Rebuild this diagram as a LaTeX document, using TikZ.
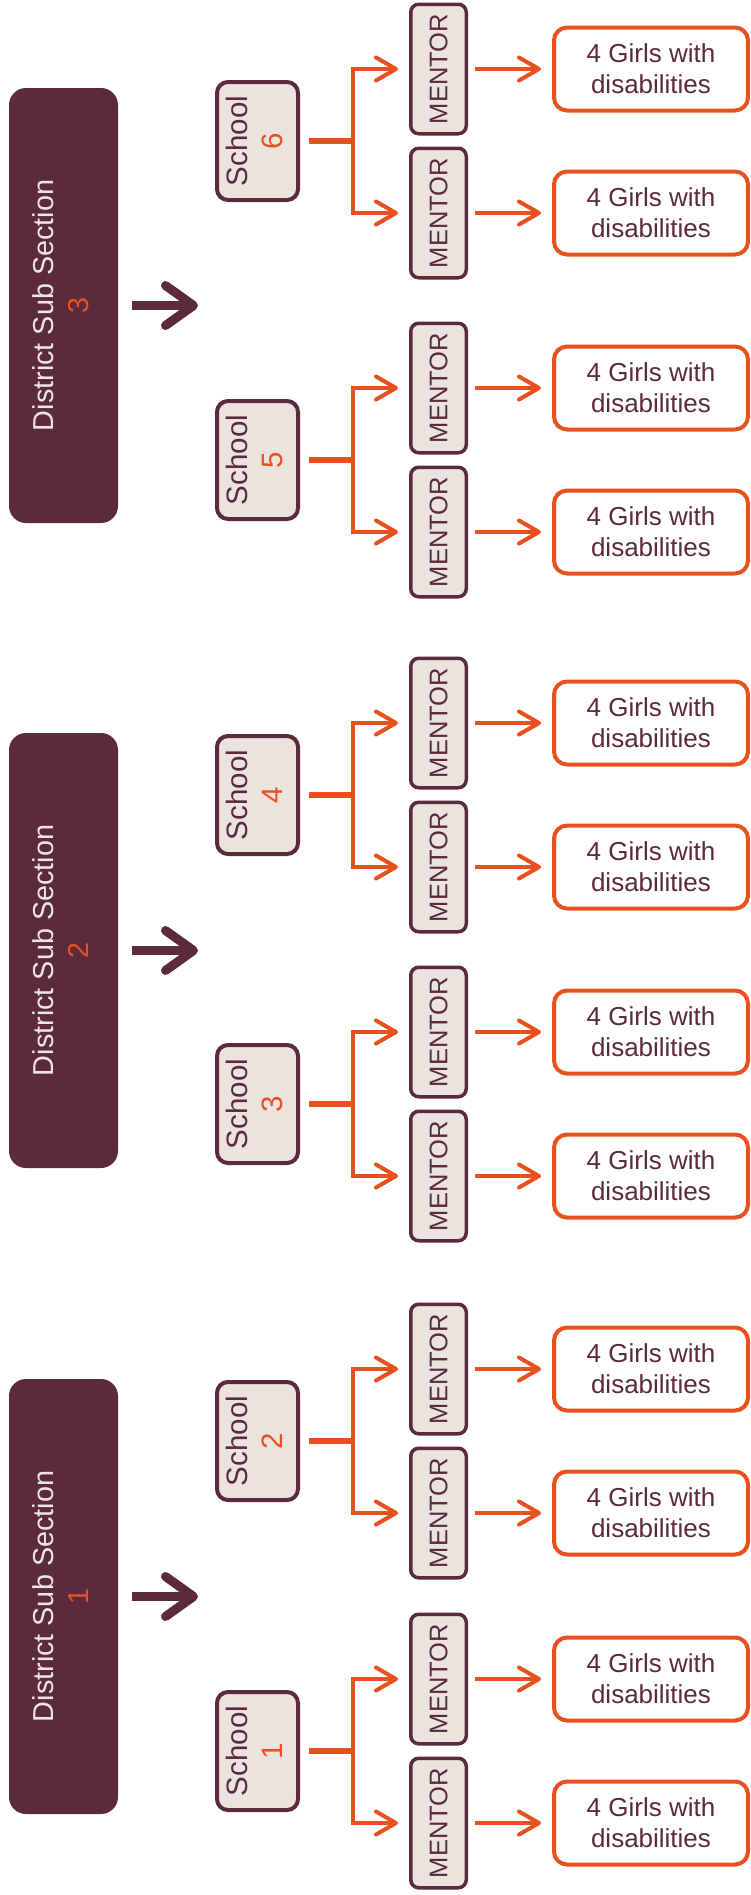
\documentclass[tikz,border=0pt]{standalone}
\usepackage{fontspec}
\setmainfont{Liberation Sans}
\usepackage{graphicx}
\usetikzlibrary{arrows.meta,calc}
\definecolor{brandmaroon}{HTML}{5B2B3D}
\definecolor{brandorange}{HTML}{E8501E}
\definecolor{lightfill}{HTML}{EAE3DE}
\definecolor{disttextcol}{HTML}{EDE5E0}
\begin{document}
\begin{tikzpicture}[x=1pt,y=-1pt,
  distbox/.style={fill=brandmaroon, rounded corners=17pt, minimum width=109pt, minimum height=435pt, inner sep=0pt, text=disttextcol, font=\fontsize{28.8}{35}\selectfont},
  schoolbox/.style={draw=brandmaroon, line width=4pt, fill=lightfill, rounded corners=11pt, minimum width=81pt, minimum height=118pt, inner sep=0pt, text=brandmaroon, font=\fontsize{29.5}{35}\selectfont},
  mentorbox/.style={draw=brandmaroon, line width=3.5pt, fill=lightfill, rounded corners=8pt, minimum width=55.5pt, minimum height=129.5pt, inner sep=0pt, text=brandmaroon, font=\fontsize{25.5}{29}\selectfont},
  girlsbox/.style={draw=brandorange, line width=4pt, fill=white, rounded corners=13pt, minimum width=194pt, minimum height=83pt, inner sep=0pt, align=center, text=brandmaroon, font=\fontsize{26}{31}\selectfont},
  stemline/.style={draw=brandorange, line width=6pt},
  branch/.style={draw=brandorange, line width=4pt, -{Straight Barb[length=20pt,width=23pt,round]}},
  distarrow/.style={draw=brandmaroon, line width=9pt, -{Straight Barb[length=28pt,width=40pt,round]}}
]
\useasboundingbox[fill=white] (0,0) rectangle (751,1895);

\foreach \n/\y in {3/305.5,2/950.5,1/1596.5}{
  \node[distbox] (d\n) at (63.5,\y) {\rotatebox{90}{\begin{tabular}{@{}c@{}}District Sub Section\\\textcolor{brandorange}{\n}\end{tabular}}};
  \coordinate (a\n) at (198,\y);
  \draw[distarrow, shorten <=14pt] (d\n.east) -- (a\n);
}

\foreach \n/\y in {6/141,5/460,4/795,3/1104,2/1441,1/1751}{
  \node[schoolbox] (s\n) at (257.5,\y) {\rotatebox{90}{\begin{tabular}{@{}c@{}}School\\\textcolor{brandorange}{\n}\end{tabular}}};
  \coordinate (j\n) at (353,\y);
  \node[mentorbox] (m\n a) at (438.5,\y-72) {\rotatebox{90}{MENTOR}};
  \node[mentorbox] (m\n b) at (438.5,\y+72) {\rotatebox{90}{MENTOR}};
  \node[girlsbox] (g\n a) at (651,\y-72) {4 Girls with\\disabilities};
  \node[girlsbox] (g\n b) at (651,\y+72) {4 Girls with\\disabilities};
  \draw[stemline, shorten <=9pt] (s\n.east) -- ([xshift=2pt]j\n);
  \draw[branch, shorten >=11pt] (j\n) |- (m\n a.west);
  \draw[branch, shorten >=11pt] (j\n) |- (m\n b.west);
  \draw[branch, shorten <=7pt, shorten >=11pt] (m\n a.east) -- (g\n a.west);
  \draw[branch, shorten <=7pt, shorten >=11pt] (m\n b.east) -- (g\n b.west);
}
\end{tikzpicture}
\end{document}
